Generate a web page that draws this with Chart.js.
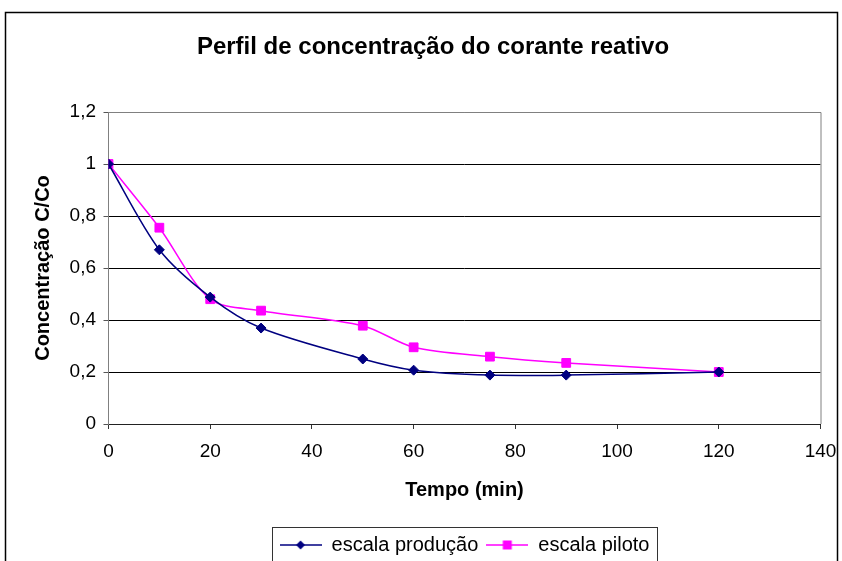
<!DOCTYPE html>
<html lang="pt">

<head>
  <meta charset="UTF-8" />
  <title>Perfil de concentração do corante reativo</title>
  <script src="https://cdn.jsdelivr.net/npm/chart.js"></script>
  <style>
    html,
    body {
      margin: 0;
      padding: 0;
      background-color: #fff;
      overflow: hidden;
    }

    #chart-container {
      position: relative;
      width: 842px;
      height: 565px;
    }
  </style>
</head>

<body>
  <div id="chart-container">
    <canvas id="corChart"></canvas>
  </div>

  <script>
    // tempos de amostragem (min) e C/Co medidos
    const tempo = [0, 10, 20, 30, 50, 60, 75, 90, 120];
    const escalaProducao = [1, 0.67, 0.488, 0.369, 0.25, 0.207, 0.188, 0.188, 0.2];
    const escalaPiloto = [1, 0.755, 0.48, 0.436, 0.378, 0.295, 0.259, 0.235, 0.2];

    const nomes = ['escala produção', 'escala piloto'];
    const cores = ['#000080', '#FF00FF'];

    const fonte = "'Liberation Sans', Arial, sans-serif";

    function pontos(valores) {
      return tempo.map((t, i) => ({ x: t, y: valores[i] }));
    }

    // little line+marker swatch for the legend
    function amostra(cor, estilo) {
      const c = document.createElement('canvas');
      c.width = 42;
      c.height = 14;
      const g = c.getContext('2d');
      g.strokeStyle = cor;
      g.lineWidth = 1.5;
      g.beginPath();
      g.moveTo(0, 7);
      g.lineTo(42, 7);
      g.stroke();
      g.fillStyle = cor;
      g.beginPath();
      if (estilo === 'diamante') {
        g.moveTo(21, 2.5);
        g.lineTo(25.5, 7);
        g.lineTo(21, 11.5);
        g.lineTo(16.5, 7);
        g.closePath();
      } else {
        g.rect(16.5, 2.5, 9, 9);
      }
      g.fill();
      return c;
    }
    const amostras = [amostra(cores[0], 'diamante'), amostra(cores[1], 'quadrado')];

    // outer frame, plot border and legend box
    const moldura = {
      id: 'moldura',
      beforeDraw(chart) {
        const ctx = chart.ctx;
        ctx.save();
        ctx.strokeStyle = '#000';
        ctx.lineWidth = 1.5;
        ctx.strokeRect(5.5, 12.5, 832, 700);
        ctx.restore();
      },
      beforeDatasetsDraw(chart) {
        const ctx = chart.ctx;
        const a = chart.chartArea;
        ctx.save();
        ctx.strokeStyle = '#808080';
        ctx.lineWidth = 1;
        ctx.beginPath();
        ctx.moveTo(a.left, a.top + 0.5);
        ctx.lineTo(a.right + 0.5, a.top + 0.5);
        ctx.lineTo(a.right + 0.5, a.bottom);
        ctx.stroke();
        ctx.restore();
      },
      afterDraw(chart) {
        const lg = chart.legend;
        if (!lg || !lg.legendHitBoxes.length) return;
        const caixas = lg.legendHitBoxes;
        const esq = caixas[0].left - 8;
        const dir = caixas[caixas.length - 1].left + caixas[caixas.length - 1].width + 7;
        const ctx = chart.ctx;
        ctx.save();
        ctx.strokeStyle = '#333';
        ctx.lineWidth = 1;
        ctx.strokeRect(Math.round(esq) + 0.5, Math.round(lg.top) + 0.5, Math.round(dir - esq), 80);
        ctx.restore();
      }
    };

    const ctx = document.getElementById('corChart').getContext('2d');

    const corChart = new Chart(ctx, {
      type: 'scatter',
      data: {
        datasets: [{
          label: nomes[0],
          data: pontos(escalaProducao),
          showLine: true,
          borderColor: cores[0],
          backgroundColor: cores[0],
          borderWidth: 1.5,
          tension: 0.3,
          pointStyle: 'rectRot',
          pointRadius: 5,
          pointBorderWidth: 1,
          pointBackgroundColor: cores[0],
          pointBorderColor: cores[0]
        }, {
          label: nomes[1],
          data: pontos(escalaPiloto),
          showLine: true,
          borderColor: cores[1],
          backgroundColor: cores[1],
          borderWidth: 1.5,
          tension: 0.3,
          pointStyle: 'rect',
          pointRadius: 6.2,
          pointBorderWidth: 1,
          pointBackgroundColor: cores[1],
          pointBorderColor: cores[1]
        }]
      },
      options: {
        responsive: true,
        maintainAspectRatio: false,
        animation: false,
        layout: {
          padding: { left: 45.5, right: 21.5, top: 0, bottom: 0 }
        },
        scales: {
          x: {
            type: 'linear',
            min: 0,
            max: 140,
            afterFit: (s) => {
              s.height = 103;
              s.paddingLeft = 0;
              s.paddingRight = 0;
            },
            ticks: {
              stepSize: 20,
              color: '#000',
              padding: 11.6,
              maxRotation: 0,
              font: { family: fonte, size: 19 }
            },
            grid: {
              drawOnChartArea: false,
              drawTicks: true,
              tickLength: 5,
              color: '#333',
              tickColor: '#333'
            },
            border: { color: '#222', width: 1 },
            title: {
              display: true,
              text: 'Tempo (min)',
              color: '#000',
              font: { family: fonte, size: 20, weight: 'bold' },
              padding: { top: 0, bottom: 25 }
            }
          },
          y: {
            min: 0,
            max: 1.2,
            afterFit: (s) => { s.width = 63; },
            ticks: {
              stepSize: 0.2,
              color: '#000',
              padding: 7.5,
              font: { family: fonte, size: 19 },
              callback: (v) => String(Math.round(v * 10) / 10).replace('.', ',')
            },
            grid: {
              color: (c) => (c.tick && Math.abs(c.tick.value - 1.2) < 1e-6) ? '#808080' : '#000',
              tickColor: '#555',
              tickLength: 5,
              lineWidth: 1
            },
            border: { color: '#808080', width: 1 },
            title: {
              display: true,
              text: 'Concentração C/Co',
              color: '#000',
              font: { family: fonte, size: 20, weight: 'bold' },
              padding: { top: -14.5, bottom: 0 }
            }
          }
        },
        plugins: {
          title: {
            display: true,
            text: 'Perfil de concentração do corante reativo',
            color: '#000',
            font: { family: fonte, size: 24, weight: 'bold' },
            padding: { top: 32.6, bottom: 50.6 }
          },
          legend: {
            position: 'bottom',
            fullSize: false,
            labels: {
              usePointStyle: true,
              pointStyleWidth: 42,
              padding: 8,
              color: '#000',
              font: { family: fonte, size: 20 },
              generateLabels(chart) {
                const itens = Chart.defaults.plugins.legend.labels.generateLabels(chart);
                itens.forEach((it, i) => { it.pointStyle = amostras[i]; });
                return itens;
              }
            }
          },
          tooltip: { enabled: false }
        }
      },
      plugins: [moldura]
    });
  </script>
</body>

</html>
